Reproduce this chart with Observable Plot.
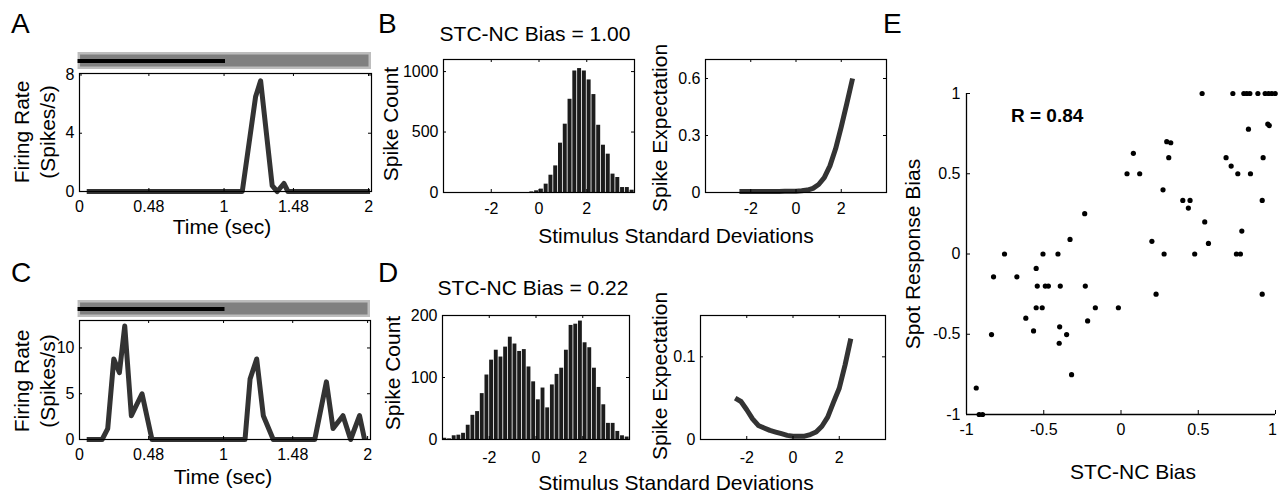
<!DOCTYPE html>
<html><head><meta charset="utf-8">
<script src="https://cdn.jsdelivr.net/npm/d3@7"></script>
<script src="https://cdn.jsdelivr.net/npm/@observablehq/plot@0.6"></script>
<style>
body{margin:0;background:#fff;}
#fig{position:relative;width:1278px;height:495px;overflow:hidden;background:#fff;}
</style></head>
<body><div id="fig"></div>
<script>
// ---------------- DATA ----------------
// Panel A / C : firing-rate traces
const timeA = [0.05, 1.126, 1.218, 1.253, 1.333, 1.368, 1.414, 1.442, 2.01];
const rateA = [0, 0, 6.5, 7.6, 0.4, 0, 0.55, 0, 0];
const timeC = [0.05, 0.157, 0.196, 0.238, 0.277, 0.314, 0.36, 0.434, 0.503, 1.149, 1.184, 1.23, 1.276, 1.345, 1.633, 1.714, 1.76, 1.829, 1.882, 1.944, 1.979];
const rateC = [0, 0, 1.2, 8.8, 7.3, 12.4, 2.6, 5.0, 0, 0, 6.6, 8.8, 2.6, 0, 0, 6.3, 1.2, 2.6, 0, 2.6, 0];
const timeTicks = [0, 0.48, 1, 1.48, 2];
const rateTicksA = [0, 4, 8];
const rateTicksC = [0, 5, 10];
const stimWindow = [-0.01, 2.02];   // grey bar (recording window)
const stimOn = [-0.01, 1.01];       // black bar (stimulus on)

// Panel B / D : spike-triggered histograms (bin width 0.2 SD)
const binWidth = 0.2;
const binStartB = [-0.4, -0.2, 0, 0.2, 0.4, 0.6, 0.8, 1.0, 1.2, 1.4, 1.6, 1.8, 2.0, 2.2, 2.4, 2.6, 2.8, 3.0, 3.2, 3.4, 3.6, 3.8];
const countB = [5, 14, 28, 69, 143, 220, 408, 565, 771, 1005, 1025, 1005, 931, 810, 556, 391, 317, 152, 124, 41, 41, 19];
const binStartD = [-4.0, -3.8, -3.6, -3.4, -3.2, -3.0, -2.8, -2.6, -2.4, -2.2, -2.0, -1.8, -1.6, -1.4, -1.2, -1.0, -0.8, -0.6, -0.4, -0.2,
                   0, 0.2, 0.4, 0.6, 0.8, 1.0, 1.2, 1.4, 1.6, 1.8, 2.0, 2.2, 2.4, 2.6, 2.8, 3.0, 3.2, 3.4, 3.6, 3.8];
const countD = [2, 1, 6, 7, 10, 23, 39, 45, 74, 104, 128, 144, 133, 149, 165, 154, 142, 145, 117, 93,
                64, 83, 51, 88, 105, 115, 144, 184, 186, 191, 156, 148, 115, 84, 56, 26, 26, 13, 6, 4];
const countTicksB = [0, 500, 1000];
const countTicksD = [0, 100, 200];
const sdTicks = [-2, 0, 2];

// Spike expectation (nonlinearity) curves
const sdX = [-2.5, -2.25, -2, -1.75, -1.5, -1.25, -1, -0.75, -0.5, -0.25, 0, 0.25, 0.5, 0.75, 1, 1.25, 1.5, 1.75, 2, 2.25, 2.5];
const expB = [0.005, 0.005, 0.005, 0.005, 0.005, 0.005, 0.005, 0.005, 0.006, 0.006, 0.007, 0.009, 0.013, 0.022, 0.042, 0.078, 0.14, 0.23, 0.345, 0.47, 0.6];
const expD = [0.050, 0.046, 0.036, 0.025, 0.017, 0.014, 0.011, 0.009, 0.007, 0.005, 0.004, 0.004, 0.004, 0.006, 0.009, 0.016, 0.027, 0.045, 0.062, 0.09, 0.122];
const expTicksB = [0, 0.3, 0.6];
const expTicksD = [0, 0.1];

// Panel E : scatter of STC-NC bias vs spot response bias
const stcBias = [0.525, 0.724, 0.795, 0.814, 0.834, 0.886, 0.933, 0.955, 0.976, 0.998,
  0.825, 0.95, 0.96, 0.08, 0.039, 0.121, 0.296, 0.322, 0.309, 0.68, 0.713, 0.756, 0.838, 0.92,
  0.272, 0.40, 0.447, 0.436, 0.914, 0.542, 0.782, -0.235, -0.33, 0.20, 0.566,
  -0.754, -0.505, -0.408, 0.279, 0.477, 0.747, 0.773,
  -0.825, -0.674, -0.549, -0.542, -0.49, -0.47, -0.393, -0.231, -0.549, -0.51, -0.166, -0.017,
  0.227, 0.914, -0.616, -0.216, -0.566, -0.397, -0.352, -0.838, -0.40, -0.32, -0.937, -0.918, -0.896];
const spotBias = [1, 1, 1, 1, 1, 1, 1, 1, 1, 1,
  0.778, 0.81, 0.80, 0.627, 0.5, 0.5, 0.70, 0.693, 0.60, 0.60, 0.548, 0.5, 0.5, 0.60,
  0.40, 0.334, 0.334, 0.286, 0.334, 0.20, 0.143, 0.251, 0.091, 0.079, 0.066,
  0, 0, 0, 0, 0, 0, 0,
  -0.142, -0.142, -0.09, -0.2, -0.2, -0.2, -0.2, -0.2, -0.335, -0.335, -0.335, -0.335,
  -0.25, -0.25, -0.40, -0.417, -0.479, -0.454, -0.502, -0.502, -0.556, -0.752, -0.835, -1, -1];
const biasTicks = [-1, -0.5, 0, 0.5, 1];

const panelLetters = ["A", "B", "C", "D", "E"];
const biasTitles = ["STC-NC Bias = 1.00", "STC-NC Bias = 0.22"];
const corrText = "R = 0.84";

// ---------------- DRAWING ----------------
const FONT = "'Liberation Sans', Arial, Helvetica, sans-serif";
const fig = document.getElementById("fig");
const fmt = d => String(d);
const LINE = "#333333";

function place(svg, left, top) {
  svg.style.position = "absolute";
  svg.style.left = left + "px";
  svg.style.top = top + "px";
  fig.appendChild(svg);
}

// A boxed MATLAB-style panel
function boxPanel({l, t, r, b, xDomain, yDomain, xTicks, yTicks, xPad = 9, marks}) {
  const ml = 50, mr = 6, mt = 6, mb = 28;
  const w = r - l, h = b - t, len = 3;
  const svg = Plot.plot({
    width: w + ml + mr, height: h + mt + mb,
    marginLeft: ml, marginRight: mr, marginTop: mt, marginBottom: mb,
    x: {domain: xDomain}, y: {domain: yDomain},
    style: {fontFamily: FONT, fontSize: "16px", color: "#000", background: "transparent", overflow: "visible"},
    marks: [
      ...marks,
      Plot.ruleX(xTicks, {insetTop: h - len, stroke: "#000"}),
      Plot.ruleX(xTicks, {insetBottom: h - len, stroke: "#000"}),
      Plot.ruleY(yTicks, {insetRight: w - len, stroke: "#000"}),
      Plot.ruleY(yTicks, {insetLeft: w - len, stroke: "#000"}),
      Plot.frame({stroke: "#000", strokeWidth: 1.2}),
      Plot.axisX(xTicks, {tickSize: 0, tickPadding: xPad, tickFormat: fmt, label: null}),
      Plot.axisY(yTicks, {tickSize: 0, tickPadding: 5, tickFormat: fmt, label: null})
    ]
  });
  place(svg, l - ml, t - mt);
}

function stimBar({l, r, t, b, xDomain}) {
  const svg = Plot.plot({
    width: r - l, height: b - t, margin: 0,
    x: {domain: xDomain}, y: {domain: [0, 1]}, axis: null,
    style: {background: "transparent", overflow: "visible"},
    marks: [
      Plot.rect([stimWindow], {x1: d => d[0], x2: d => d[1], y1: 0, y2: 1, fill: "#808080", stroke: "#bdbdbd", strokeWidth: 2.5, inset: 1.25}),
      Plot.ruleY([0.5], {x1: stimOn[0], x2: stimOn[1], stroke: "#000", strokeWidth: 3.8})
    ]
  });
  place(svg, l, t);
}

const lineOpts = {x: "x", y: "y", stroke: LINE, strokeWidth: 5, strokeLinejoin: "round", strokeLinecap: "butt"};
const toPts = (xs, ys) => xs.map((x, i) => ({x, y: ys[i]}));
const toBins = (starts, counts) => starts.map((s, i) => ({x1: s, x2: s + binWidth, n: counts[i]}));
const histOpts = {x1: "x1", x2: "x2", y: "n", fill: "#1c1c1c", insetLeft: 0.4, insetRight: 0.4};

// Panel A
stimBar({l: 79, r: 371, t: 52, b: 69, xDomain: [0, 2.02]});
boxPanel({l: 79, t: 73, r: 371, b: 191, xDomain: [0, 2.02], yDomain: [0, 8.1], xTicks: timeTicks, yTicks: rateTicksA, xPad: 9,
  marks: [Plot.line(toPts(timeA, rateA), lineOpts)]});
// Panel C
stimBar({l: 79, r: 370, t: 300, b: 317, xDomain: [0, 2.02]});
boxPanel({l: 79, t: 320, r: 370, b: 439, xDomain: [0, 2.02], yDomain: [0, 13], xTicks: timeTicks, yTicks: rateTicksC, xPad: 9,
  marks: [Plot.line(toPts(timeC, rateC), lineOpts)]});
// Panel B
boxPanel({l: 443, t: 59, r: 634, b: 192, xDomain: [-4, 4], yDomain: [0, 1100], xTicks: sdTicks, yTicks: countTicksB, xPad: 10,
  marks: [Plot.rectY(toBins(binStartB, countB), histOpts)]});
boxPanel({l: 705, t: 59, r: 886, b: 192, xDomain: [-4, 4], yDomain: [0, 0.7], xTicks: sdTicks, yTicks: expTicksB, xPad: 10,
  marks: [Plot.line(toPts(sdX, expB), lineOpts)]});
// Panel D
boxPanel({l: 442, t: 315, r: 629, b: 439, xDomain: [-4, 4], yDomain: [0, 200], xTicks: sdTicks, yTicks: countTicksD, xPad: 12,
  marks: [Plot.rectY(toBins(binStartD, countD), histOpts)]});
boxPanel({l: 700, t: 315, r: 885, b: 439, xDomain: [-4, 4], yDomain: [0, 0.15], xTicks: sdTicks, yTicks: expTicksD, xPad: 12,
  marks: [Plot.line(toPts(sdX, expD), lineOpts)]});

// Panel E
(function () {
  const l = 966, r = 1275, t = 93, b = 414, ml = 60, mr = 3, mt = 6, mb = 28;
  const w = r - l, h = b - t, len = 4;
  const lastTick = biasTicks.slice(-1);
  const svg = Plot.plot({
    width: w + ml + mr, height: h + mt + mb,
    marginLeft: ml, marginRight: mr, marginTop: mt, marginBottom: mb,
    x: {domain: [-1, 1]}, y: {domain: [-1, 1]},
    style: {fontFamily: FONT, fontSize: "16px", color: "#000", background: "transparent", overflow: "visible"},
    marks: [
      Plot.ruleX([-1], {stroke: "#000", strokeWidth: 1.3}),
      Plot.ruleY([-1], {stroke: "#000", strokeWidth: 1.3}),
      Plot.ruleX(biasTicks, {insetTop: h - len, stroke: "#000"}),
      Plot.ruleY(biasTicks, {insetRight: w - len, stroke: "#000"}),
      Plot.axisX(biasTicks.slice(0, -1), {tickSize: 0, tickPadding: 9, tickFormat: fmt, label: null}),
      Plot.axisX(lastTick, {tickSize: 0, tickPadding: 9, tickFormat: fmt, label: null, dx: -3}),
      Plot.axisY(biasTicks, {tickSize: 0, tickPadding: 6, tickFormat: fmt, label: null}),
      Plot.dot(toPts(stcBias, spotBias), {x: "x", y: "y", r: 2.6, fill: "#000", stroke: null})
    ]
  });
  place(svg, l - ml, t - mt);
})();

// ---------------- TEXT OVERLAY ----------------
const overlay = d3.select(fig).append("svg")
  .attr("width", 1278).attr("height", 495)
  .style("position", "absolute").style("left", 0).style("top", 0).style("pointer-events", "none");
function txt(s, x, y, {size = 21, anchor = "middle", rotate = false, weight = "normal"} = {}) {
  const t = overlay.append("text").text(s)
    .attr("font-family", FONT).attr("font-size", size).attr("font-weight", weight)
    .attr("text-anchor", anchor).attr("fill", "#000");
  if (rotate) t.attr("transform", `translate(${x},${y}) rotate(-90)`);
  else t.attr("x", x).attr("y", y);
}
// panel letters
txt(panelLetters[0], 11, 33, {size: 28, anchor: "start"});
txt(panelLetters[1], 378, 33, {size: 28, anchor: "start"});
txt(panelLetters[2], 11, 282, {size: 28, anchor: "start"});
txt(panelLetters[3], 378, 282, {size: 28, anchor: "start"});
txt(panelLetters[4], 883, 33, {size: 28, anchor: "start"});
// titles
txt(biasTitles[0], 535, 41);
txt(biasTitles[1], 533, 295);
// A / C labels
txt("Firing Rate", 29, 132, {rotate: true});
txt("(Spikes/s)", 55, 132, {rotate: true});
txt("Time (sec)", 222, 234);
txt("Firing Rate", 29, 381, {rotate: true});
txt("(Spikes/s)", 55, 381, {rotate: true});
txt("Time (sec)", 223, 484);
// B / D labels
txt("Spike Count", 398, 124, {rotate: true});
txt("Spike Expectation", 667, 128, {rotate: true});
txt("Stimulus Standard Deviations", 676, 243);
txt("Spike Count", 400, 373, {rotate: true});
txt("Spike Expectation", 667, 376, {rotate: true});
txt("Stimulus Standard Deviations", 676, 490);
// E labels
txt("Spot Response Bias", 920, 254, {rotate: true});
txt("STC-NC Bias", 1133, 479);
txt(corrText, 1011, 122, {size: 19, anchor: "start", weight: "bold"});
</script>
</body></html>
